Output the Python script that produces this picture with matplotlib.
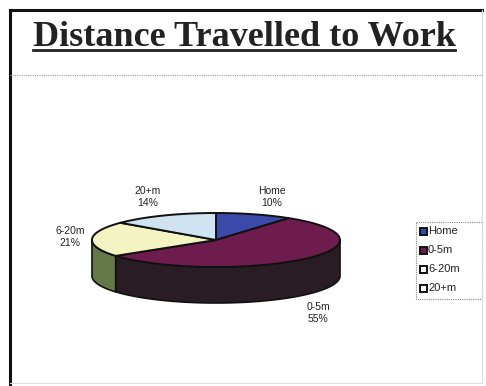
import numpy as np
import matplotlib
matplotlib.use("Agg")
import matplotlib.pyplot as plt
from matplotlib.patches import Polygon, Rectangle

# data
labels = ["Home", "0-5m", "6-20m", "20+m"]
shares = [10, 55, 21, 14]
top_cols = ["#3b4aa8", "#6e1c4e", "#f4f3c2", "#cfe3f1"]
side_cols = ["#27306e", "#2a1c25", "#66774a", "#8fa3b0"]
leg_cols = ["#3b4aa8", "#6e1c4e", "#ffffff", "#ffffff"]

W, H = 486, 386
fig = plt.figure(figsize=(W / 100, H / 100), dpi=100)
ax = fig.add_axes([0, 0, 1, 1])
ax.set_xlim(0, W)
ax.set_ylim(H, 0)
ax.axis("off")

# slide frame
ax.plot([10, 10], [H, 10], color="#111", lw=2.2)
ax.plot([10, 482], [10, 10], color="#111", lw=2.2)
ax.plot([482, 482], [10, 383], color="#dddddd", lw=0.8)
ax.plot([10, 482], [383, 383], color="#dddddd", lw=0.8)
ax.plot([10, 482], [75, 75], color="#999", lw=0.8, ls=(0, (1, 1)))

ax.text(33, 46, "Distance Travelled to Work", fontsize=26, fontweight="bold",
        family="Liberation Serif", color="#222", va="baseline", ha="left")
ax.plot([33, 455], [50, 50], color="#222", lw=2)

# 3d pie
cx, cy, a, b, depth = 216, 240, 124, 27, 36

def pt(t):
    return cx + a * np.cos(np.radians(t)), cy - b * np.sin(np.radians(t))

starts = 90 - np.cumsum([0] + shares[:-1]) * 3.6
ends = starts - np.array(shares) * 3.6

# side walls (front half only, -180..0)
for s, e, sc in zip(starts, ends, side_cols):
    lo, hi = max(e, -180), min(s, 0)
    lo2, hi2 = max(e + 360, -180), min(s + 360, 0)
    for l, h in ((lo, hi), (lo2, hi2)):
        if h <= l:
            continue
        t = np.linspace(l, h, 60)
        xs, ys = pt(t)
        poly = np.column_stack([np.r_[xs, xs[::-1]], np.r_[ys, ys[::-1] + depth]])
        ax.add_patch(Polygon(poly, closed=True, fc=sc, ec="#111", lw=1.2))

# top faces
for s, e, tc in zip(starts, ends, top_cols):
    t = np.linspace(s, e, 120)
    xs, ys = pt(t)
    poly = np.column_stack([np.r_[cx, xs], np.r_[cy, ys]])
    ax.add_patch(Polygon(poly, closed=True, fc=tc, ec="#111", lw=1.4))

# labels
lab_pos = [(272, 197), (318, 313), (70, 237), (148, 197)]
for (lx, ly), lab, v in zip(lab_pos, labels, shares):
    ax.text(lx, ly, f"{lab}\n{v}%", ha="center", va="center", fontsize=7.5,
            family="Liberation Sans", color="#222", linespacing=1.3)

# legend
ax.add_patch(Rectangle((416, 222), 66, 77, fc="white", ec="#888", lw=0.8, ls=(0, (1, 1))))
for i, (lab, c) in enumerate(zip(labels, leg_cols)):
    y = 231 + i * 19
    ax.add_patch(Rectangle((420, y - 3.5), 7, 7, fc=c, ec="#111", lw=1.4))
    ax.text(428, y, lab, ha="left", va="center", fontsize=8,
            family="Liberation Sans", color="#222")

fig.savefig("out.png", dpi=100)
